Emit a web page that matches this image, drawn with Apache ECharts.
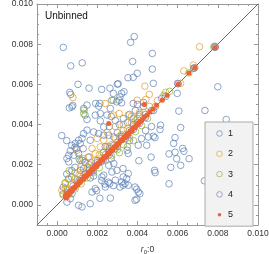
<!DOCTYPE html>
<html><head><meta charset="utf-8">
<script src="https://cdn.jsdelivr.net/npm/echarts@6/dist/echarts.min.js"></script>
<style>html,body{margin:0;padding:0;background:#fff}#c{width:269px;height:254px}</style>
</head><body><div id="c"></div>
<script>
const seriesNames = ['1','2','3','4','5'];
const seriesColors = ['#5E81B5','#E19C24','#8FB032','#8778B3','#EB6235'];
const xTickLabels = [0, 0.002, 0.004, 0.006, 0.008, 0.010];
const yTickLabels = [0, 0.002, 0.004, 0.006, 0.008, 0.010];
const minorTicks = [-0.001,-0.0005,0,0.0005,0.001,0.0015,0.002,0.0025,0.003,0.0035,0.004,0.0045,0.005,0.0055,0.006,0.0065,0.007,0.0075,0.008,0.0085,0.009,0.0095,0.010];
const axisRange = [-0.001, 0.010];
const diagonal = [-0.001, 0.010];

const s1 = [[0.31e-3,7.84e-3],[0.68e-3,6.92e-3],[1.25e-3,7.07e-3],[1.04e-3,6.00e-3],[0.63e-3,5.60e-3],[0.68e-3,5.50e-3],[0.61e-3,4.83e-3],[0.78e-3,4.95e-3],[1.59e-3,5.81e-3],[2.22e-3,5.75e-3],[2.63e-3,5.81e-3],[3.04e-3,6.03e-3],[3.33e-3,5.63e-3],[3.66e-3,8.09e-3],[3.84e-3,8.38e-3],[3.76e-3,7.14e-3],[3.53e-3,6.33e-3],[1.92e-3,5.05e-3],[2.13e-3,5.05e-3],[3.08e-3,5.21e-3],[1.39e-3,4.47e-3],[4.74e-3,7.54e-3],[4.74e-3,6.76e-3],[3.99e-3,6.55e-3],[4.79e-3,6.05e-3],[3.79e-3,6.35e-3],[3.00e-3,6.01e-3],[3.21e-3,5.55e-3],[3.13e-3,5.38e-3],[2.80e-3,5.55e-3],[2.72e-3,5.21e-3],[2.97e-3,5.13e-3],[3.21e-3,5.08e-3],[0.74e-3,4.88e-3],[1.32e-3,4.80e-3],[1.49e-3,4.97e-3],[1.49e-3,4.25e-3],[2.07e-3,4.92e-3],[1.90e-3,4.47e-3],[2.15e-3,4.55e-3],[2.48e-3,4.47e-3],[2.65e-3,4.80e-3],[2.15e-3,4.18e-3],[2.32e-3,3.88e-3],[1.32e-3,3.55e-3],[1.49e-3,3.72e-3],[1.24e-3,3.31e-3],[1.07e-3,3.22e-3],[1.15e-3,3.06e-3],[0.91e-3,3.06e-3],[0.96e-3,2.81e-3],[0.66e-3,2.69e-3],[0.58e-3,2.47e-3],[0.83e-3,2.47e-3],[1.07e-3,2.56e-3],[1.82e-3,3.63e-3],[2.07e-3,3.55e-3],[2.32e-3,3.47e-3],[2.57e-3,3.47e-3],[2.82e-3,3.38e-3],[1.65e-3,3.22e-3],[0.23e-3,3.45e-3],[0.48e-3,3.20e-3],[0.73e-3,2.96e-3],[0.89e-3,2.87e-3],[1.14e-3,2.21e-3],[1.39e-3,2.12e-3],[1.55e-3,2.37e-3],[0.49e-3,2.31e-3],[0.58e-3,2.14e-3],[1.24e-3,2.22e-3],[0.48e-3,1.54e-3],[0.73e-3,1.71e-3],[0.56e-3,1.29e-3],[0.73e-3,1.38e-3],[0.89e-3,1.87e-3],[2.60e-3,3.90e-3],[2.90e-3,4.20e-3],[3.10e-3,4.00e-3],[3.30e-3,4.30e-3],[2.70e-3,4.40e-3],[3.50e-3,4.10e-3],[3.60e-3,4.50e-3],[3.90e-3,4.70e-3],[4.10e-3,4.50e-3],[4.00e-3,5.00e-3],[3.80e-3,4.30e-3],[4.30e-3,4.90e-3],
[1.20e-3,1.30e-3],[1.60e-3,1.75e-3],[2.00e-3,2.10e-3],[2.40e-3,2.50e-3],[2.80e-3,2.95e-3],[3.20e-3,3.30e-3],[3.60e-3,3.70e-3],[4.00e-3,4.10e-3],[4.40e-3,4.35e-3],[4.80e-3,4.70e-3],[5.40e-3,5.40e-3],[6.03e-3,6.03e-3],[6.85e-3,6.83e-3],[7.86e-3,7.84e-3],[1.80e-3,1.70e-3],[2.20e-3,2.15e-3],[2.60e-3,2.50e-3],[3.00e-3,2.90e-3],[3.40e-3,3.30e-3],[3.80e-3,3.75e-3],
[8.00e-3,5.88e-3],[5.98e-3,5.55e-3],[6.06e-3,4.67e-3],[7.36e-3,4.70e-3],[8.42e-3,4.25e-3],[5.15e-3,3.97e-3],[6.15e-3,3.85e-3],[5.12e-3,3.75e-3],[4.87e-3,3.35e-3],[5.87e-3,3.35e-3],[4.54e-3,3.38e-3],[4.79e-3,3.42e-3],[5.80e-3,3.06e-3],[5.87e-3,2.62e-3],[6.25e-3,2.81e-3],[6.31e-3,2.67e-3],[4.04e-3,2.97e-3],[4.46e-3,2.97e-3],[3.49e-3,2.72e-3],[3.54e-3,2.56e-3],[5.57e-3,2.54e-3],[4.68e-3,2.38e-3],[4.07e-3,2.20e-3],[5.95e-3,2.30e-3],[6.57e-3,2.30e-3],[6.15e-3,1.97e-3],[5.66e-3,1.87e-3],[4.85e-3,1.72e-3],[4.88e-3,1.61e-3],[3.54e-3,1.56e-3],[5.57e-3,1.05e-3],[3.29e-3,1.39e-3],[3.46e-3,1.31e-3],[3.21e-3,1.14e-3],[3.38e-3,1.06e-3],[3.54e-3,0.98e-3],[3.29e-3,0.98e-3],[3.13e-3,0.89e-3],[3.88e-3,0.89e-3],[3.96e-3,0.78e-3],[4.04e-3,0.64e-3],[4.12e-3,0.56e-3],[3.88e-3,0.23e-3],[3.96e-3,0.28e-3],[7.33e-3,1.20e-3],[0.66e-3,0.31e-3],[0.49e-3,0.14e-3],[1.07e-3,-0.02e-3],[1.24e-3,-0.10e-3],[1.65e-3,0.06e-3],[2.65e-3,0.34e-3],[1.74e-3,0.64e-3],[1.90e-3,0.81e-3],[2.40e-3,0.89e-3],[2.62e-3,1.06e-3],[2.90e-3,1.23e-3],[2.23e-3,1.39e-3],[2.32e-3,1.48e-3],[1.65e-3,1.34e-3],[1.82e-3,1.44e-3],[2.73e-3,1.64e-3],[2.98e-3,1.72e-3],[3.28e-3,1.81e-3],[2.57e-3,1.97e-3],[2.82e-3,2.06e-3],[1.15e-3,1.72e-3],[1.32e-3,1.81e-3],[0.74e-3,0.56e-3],[2.13e-3,0.33e-3],[2.80e-3,0.96e-3],[2.38e-3,1.04e-3],[2.55e-3,1.13e-3],[2.22e-3,1.21e-3],[1.97e-3,0.71e-3],[0.31e-3,0.88e-3],[4.40e-3,3.70e-3],[4.20e-3,3.30e-3],[4.70e-3,3.90e-3]];

const s2 = [[0.79e-3,5.34e-3],[2.40e-3,5.05e-3],[0.99e-3,2.72e-3],[1.74e-3,2.81e-3],[1.90e-3,2.56e-3],[2.15e-3,2.89e-3],[1.99e-3,3.31e-3],[2.32e-3,3.22e-3],[3.09e-3,4.55e-3],[3.54e-3,4.47e-3],[2.80e-3,4.47e-3],[4.37e-3,5.91e-3],[4.59e-3,5.50e-3],[6.31e-3,6.67e-3],[6.78e-3,6.96e-3],[7.09e-3,7.87e-3],[3.99e-3,5.21e-3],[6.15e-3,6.05e-3],[4.42e-3,5.25e-3],[1.30e-3,2.30e-3],[1.60e-3,2.40e-3],[2.50e-3,3.60e-3],[2.90e-3,3.90e-3],[3.30e-3,4.00e-3],[3.70e-3,4.40e-3],[4.10e-3,4.60e-3],[1.20e-3,1.90e-3],[0.90e-3,1.60e-3],[0.60e-3,1.30e-3],[0.41e-3,1.06e-3],[0.24e-3,0.73e-3],[0.41e-3,0.81e-3],
[0.30e-3,0.55e-3],[0.50e-3,0.80e-3],[0.70e-3,1.00e-3],[0.90e-3,1.30e-3],[1.10e-3,1.50e-3],[1.30e-3,1.60e-3],[1.50e-3,1.90e-3],[1.70e-3,2.10e-3],[1.90e-3,2.20e-3],[2.10e-3,2.50e-3],[2.30e-3,2.60e-3],[2.50e-3,2.90e-3],[2.70e-3,3.00e-3],[2.90e-3,3.30e-3],[3.10e-3,3.40e-3],[3.30e-3,3.70e-3],[3.50e-3,3.80e-3],[3.70e-3,4.10e-3],[3.90e-3,4.20e-3],[4.10e-3,4.40e-3],[4.30e-3,4.60e-3],[4.60e-3,4.90e-3],[5.00e-3,5.20e-3],[5.40e-3,5.60e-3],[1.00e-3,1.10e-3],[1.40e-3,1.45e-3],[1.80e-3,1.90e-3],[2.20e-3,2.30e-3],[2.60e-3,2.70e-3],[3.00e-3,3.10e-3],[3.40e-3,3.50e-3],[3.80e-3,3.90e-3],[7.85e-3,7.90e-3]];

const s3 = [[1.35e-3,4.72e-3],[1.32e-3,4.55e-3],[2.80e-3,5.21e-3],[5.32e-3,5.46e-3],[6.56e-3,6.57e-3],[7.80e-3,7.87e-3],[0.30e-3,0.50e-3],[0.50e-3,0.70e-3],[0.60e-3,0.55e-3],[0.90e-3,0.80e-3],[1.20e-3,1.05e-3],[1.50e-3,1.35e-3],[1.80e-3,1.60e-3],[2.10e-3,1.85e-3],[2.40e-3,2.20e-3],[2.70e-3,2.45e-3],[3.00e-3,2.75e-3],[3.30e-3,3.00e-3],[3.60e-3,3.35e-3],[3.90e-3,3.65e-3],[4.20e-3,3.95e-3],[4.50e-3,4.30e-3],[1.00e-3,1.25e-3],[1.60e-3,1.85e-3],[2.30e-3,2.60e-3],[3.20e-3,3.50e-3],[4.00e-3,4.30e-3],[0.40e-3,1.10e-3],[0.60e-3,1.70e-3],[1.10e-3,2.30e-3],[3.50e-3,2.90e-3],[3.80e-3,3.20e-3],[4.90e-3,4.90e-3],[5.60e-3,5.65e-3],[6.80e-3,6.80e-3],[2.60e-3,2.90e-3],[3.10e-3,2.60e-3]];

const s4 = [[3.79e-3,5.05e-3],[0.80e-3,0.95e-3],[1.10e-3,1.20e-3],[1.40e-3,1.55e-3],[1.70e-3,1.65e-3],[2.00e-3,2.20e-3],[2.30e-3,2.25e-3],[2.60e-3,2.80e-3],[2.90e-3,2.80e-3],[3.20e-3,3.40e-3],[3.50e-3,3.45e-3],[3.80e-3,4.00e-3],[4.10e-3,4.05e-3],[4.40e-3,4.50e-3],[4.70e-3,4.70e-3],[5.20e-3,5.30e-3],[6.00e-3,6.05e-3],[6.80e-3,6.80e-3],[7.87e-3,7.87e-3],[1.60e-3,2.00e-3],[2.40e-3,2.90e-3],[3.00e-3,3.60e-3],[2.70e-3,2.30e-3],[3.60e-3,3.20e-3],[4.30e-3,5.10e-3],[1.30e-3,2.80e-3],[0.50e-3,0.60e-3],[1.95e-3,1.95e-3]];

const s5 = [[0.40e-3,0.45e-3],[0.44e-3,0.34e-3],[0.48e-3,0.55e-3],[0.52e-3,0.42e-3],[0.56e-3,0.62e-3],[0.60e-3,0.52e-3],[0.66e-3,0.70e-3],[0.72e-3,0.66e-3],[0.80e-3,0.85e-3],[0.88e-3,0.83e-3],[0.96e-3,1.01e-3],[1.04e-3,0.99e-3],[1.10e-3,1.15e-3],[1.16e-3,1.11e-3],[1.24e-3,1.29e-3],[1.32e-3,1.27e-3],[1.40e-3,1.45e-3],[1.48e-3,1.43e-3],[1.56e-3,1.61e-3],[1.64e-3,1.59e-3],[1.72e-3,1.77e-3],[1.80e-3,1.75e-3],[1.88e-3,1.93e-3],[1.96e-3,1.91e-3],[2.04e-3,2.09e-3],[2.12e-3,2.07e-3],[2.20e-3,2.25e-3],[2.28e-3,2.23e-3],[2.36e-3,2.41e-3],[2.44e-3,2.39e-3],[2.52e-3,2.57e-3],[2.60e-3,2.55e-3],[2.68e-3,2.73e-3],[2.76e-3,2.71e-3],[2.84e-3,2.89e-3],[2.92e-3,2.87e-3],[3.00e-3,3.05e-3],[3.08e-3,3.03e-3],[3.16e-3,3.21e-3],[3.24e-3,3.19e-3],[3.32e-3,3.37e-3],[3.40e-3,3.35e-3],[3.48e-3,3.53e-3],[3.56e-3,3.51e-3],[3.64e-3,3.69e-3],[3.72e-3,3.67e-3],[3.80e-3,3.84e-3],[3.88e-3,3.84e-3],[3.96e-3,3.99e-3],[4.04e-3,4.02e-3],[4.12e-3,4.14e-3],[4.22e-3,4.21e-3],[4.34e-3,4.35e-3],[4.48e-3,4.47e-3],[4.62e-3,4.63e-3],[4.78e-3,4.77e-3],[4.95e-3,4.96e-3],[5.23e-3,5.21e-3],[5.48e-3,5.46e-3],[6.03e-3,6.01e-3],[6.56e-3,6.56e-3],[6.85e-3,6.83e-3],[7.86e-3,7.84e-3],[2.57e-3,4.05e-3],[4.34e-3,5.00e-3],
[0.46e-3,0.46e-3],[0.62e-3,0.62e-3],[0.76e-3,0.76e-3],[0.84e-3,0.84e-3],[0.92e-3,0.92e-3],[1.00e-3,1.00e-3],[1.20e-3,1.20e-3],[1.28e-3,1.28e-3],[1.36e-3,1.36e-3],[1.44e-3,1.44e-3],[1.52e-3,1.52e-3],[1.60e-3,1.60e-3],[1.68e-3,1.68e-3],[1.76e-3,1.76e-3],[1.84e-3,1.84e-3],[1.92e-3,1.92e-3],[2.00e-3,2.00e-3],[2.08e-3,2.08e-3],[2.16e-3,2.16e-3],[2.24e-3,2.24e-3],[2.32e-3,2.32e-3],[2.40e-3,2.40e-3],[2.48e-3,2.48e-3],[2.56e-3,2.56e-3],[2.64e-3,2.64e-3],[2.72e-3,2.72e-3],[2.80e-3,2.80e-3],[2.88e-3,2.88e-3],[2.96e-3,2.96e-3],[3.04e-3,3.04e-3],[3.12e-3,3.12e-3],[3.20e-3,3.20e-3],[3.28e-3,3.28e-3],[3.36e-3,3.36e-3],[3.44e-3,3.44e-3],[3.52e-3,3.52e-3],[3.60e-3,3.60e-3],[3.68e-3,3.68e-3],[3.76e-3,3.76e-3],[3.84e-3,3.84e-3],[3.92e-3,3.92e-3],[4.00e-3,4.00e-3],[4.08e-3,4.08e-3],[4.17e-3,4.17e-3]];

const allSeries = [s1, s2, s3, s4, s5];

const FONT = 'Liberation Sans, Arial, sans-serif';
const frameColor = '#999';
const labelColor = '#333';

function makeAxis(pos, ticks, len, withLabels, extra) {
  const ax = {
    type: 'value', position: pos, min: axisRange[0], max: axisRange[1],
    splitLine: { show: false },
    axisLine: { show: !!withLabels, onZero: false, lineStyle: { color: frameColor, width: 1 } },
    axisTick: { show: true, inside: true, length: len, customValues: ticks, lineStyle: { color: frameColor, width: 1 } },
    axisLabel: withLabels === 'labels'
      ? { show: true, customValues: ticks, formatter: v => v.toFixed(3), fontSize: 8.5, color: labelColor, fontFamily: FONT, margin: 4 }
      : { show: false }
  };
  return Object.assign(ax, extra || {});
}

const nameRich = {
  i: { fontStyle: 'italic', fontSize: 8.5, fontFamily: FONT, color: labelColor },
  s: { fontSize: 6, fontFamily: FONT, color: labelColor, padding: [4, 0, 0, 0] },
  n: { fontSize: 8.5, fontFamily: FONT, color: labelColor }
};

const xAxes = [
  makeAxis('bottom', xTickLabels, 4, 'labels', { name: '{i|r}{s|0}{n|:0}', nameLocation: 'middle', nameGap: 20, nameTextStyle: { rich: nameRich } }),
  makeAxis('bottom', minorTicks, 2, false),
  makeAxis('top', xTickLabels, 4, 'line'),
  makeAxis('top', minorTicks, 2, false)
];
const yAxes = [
  makeAxis('left', yTickLabels, 4, 'labels', { name: '{i|r}{s|0}{n|:0.03}', nameLocation: 'middle', nameGap: 29, nameRotate: 90, nameTextStyle: { rich: nameRich } }),
  makeAxis('left', minorTicks, 2, false),
  makeAxis('right', yTickLabels, 4, 'line'),
  makeAxis('right', minorTicks, 2, false)
];

function svgIcon(inner) {
  return 'image://data:image/svg+xml;charset=utf-8,' + encodeURIComponent('<svg xmlns="http://www.w3.org/2000/svg" width="14" height="14">' + inner + '</svg>');
}
const legendIcons = seriesColors.map((c, i) => i === 4
  ? svgIcon('<circle cx="7" cy="7" r="3.6" fill="' + c + '"/>')
  : svgIcon('<circle cx="7" cy="7" r="5.6" fill="none" stroke="' + c + '" stroke-width="1.7"/>'));

const scatterSeries = allSeries.map((d, i) => {
  const filled = i === 4;
  return {
    name: seriesNames[i], type: 'scatter', data: d, xAxisIndex: 0, yAxisIndex: 0,
    symbol: 'circle', symbolSize: filled ? 5 : 6.6, z: 3 + i,
    itemStyle: filled
      ? { color: seriesColors[i], opacity: 1 }
      : { color: 'rgba(255,255,255,0)', borderColor: seriesColors[i], borderWidth: 0.9 },
    emphasis: { disabled: true }, silent: true
  };
});

const chart = echarts.init(document.getElementById('c'), null, { renderer: 'canvas' });
chart.setOption({
  animation: false,
  backgroundColor: '#fff',
  grid: { left: 37, right: 11, top: 4, bottom: 29, containLabel: false, outerBoundsMode: 'none' },
  xAxis: xAxes,
  yAxis: yAxes,
  legend: {
    orient: 'vertical', left: 205, top: 122,
    padding: [7, 20, 7, 11], itemGap: 11.3, itemWidth: 7, itemHeight: 7,
    backgroundColor: '#f2f2f2', borderColor: '#aaa', borderWidth: 1,
    textStyle: { fontSize: 9, color: '#222', fontFamily: FONT },
    data: seriesNames.map((n, i) => ({ name: n, icon: legendIcons[i] }))
  },
  graphic: [{ type: 'text', left: 45, top: 11, style: { text: 'Unbinned', fontSize: 10, fill: '#111', fontFamily: FONT } }],
  series: [{
    type: 'line', data: [[diagonal[0], diagonal[0]], [diagonal[1], diagonal[1]]],
    symbol: 'none', lineStyle: { color: '#555', width: 0.9 }, z: 2, silent: true, legendHoverLink: false
  }].concat(scatterSeries)
});
</script></body></html>
